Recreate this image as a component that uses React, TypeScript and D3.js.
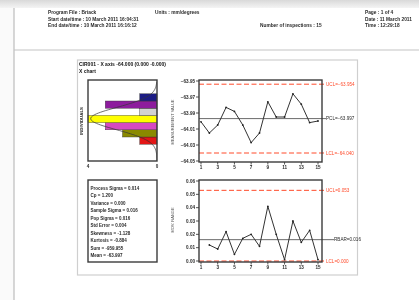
import React from "react"
import * as d3 from "d3"

// header texts of the report page
const headerLeft = ["Program File : Briack", "Start date/time : 10 March 2011 16:04:31", "End date/time : 10 March 2011 16:16:12"]
const headerRight = ["Page : 1 of 4", "Date : 11 March 2011", "Time : 12:29:18"]
const unitsText = "Units : mm/degrees"
const inspectionsText = "Number of inspections : 15"
const chartTitle = ["CIR001 - X axis -64.000 (0.000 -0.000)", "X chart"]

// individuals (X) chart
const sampleNo = [1, 2, 3, 4, 5, 6, 7, 8, 9, 10, 11, 12, 13, 14, 15]
const xValues = [-64.001, -64.015, -64.005, -63.983, -63.988, -64.005, -64.027, -64.015, -63.976, -63.995, -63.995, -63.966, -63.979, -64.002, -64.000]
const xTicks = [-64.05, -64.03, -64.01, -63.99, -63.97, -63.95]
const xLimitNames = ["UCL", "PCL", "LCL"]
const xLimitValues = [-63.954, -63.997, -64.04]

// moving range chart
const rangeSampleNo = [2, 3, 4, 5, 6, 7, 8, 9, 10, 11, 12, 13, 14, 15]
const rangeValues = [0.012, 0.009, 0.022, 0.005, 0.017, 0.02, 0.011, 0.041, 0.02, 0.001, 0.03, 0.014, 0.023, 0.001]
const rTicks = [0, 0.01, 0.02, 0.03, 0.04, 0.05, 0.06]
const rLimitNames = ["UCL", "RBAR", "LCL"]
const rLimitValues = [0.053, 0.016, 0]

const sampleTicks = [1, 3, 5, 7, 9, 11, 13, 15]

// histogram (bins run bottom to top)
const binEdges = [-64.029, -64.02, -64.011, -64.002, -63.993, -63.984, -63.975, -63.966]
const binCounts = [1, 2, 3, 4, 1, 3, 1]
const binColours = ["#e31212", "#8a8a05", "#d64ac2", "#ffff00", "#d2d2d2", "#8d1f9d", "#1e1e84"]
const histTicks = [4, 0]

const statNames = ["Process Sigma", "Cp", "Variance", "Sample Sigma", "Pop Sigma", "Std Error", "Skewness", "Kurtosis", "Sum", "Mean"]
const statValues = ["0.014", "1.200", "0.000", "0.016", "0.016", "0.004", "-1.128", "-0.884", "-959.955", "-63.997"]
const processMean = -63.997
const processSigma = 0.014

const font = "'Liberation Sans', Arial, sans-serif"
const ink = "#2a2a2a"
const limitRed = "#ff4a2a"

function App() {
  const plotL = 199, plotR = 322
  const x = d3.scaleLinear().domain([1, 15]).range([201, 318])
  const yX = d3.scaleLinear().domain([-64.05, -63.95]).range([161, 81])
  const yR = d3.scaleLinear().domain([0, 0.06]).range([261, 181])
  const hx = d3.scaleLinear().domain([0, 4]).range([157, 88])

  const xLine = d3.line<number>().x((d, i) => x(sampleNo[i])).y(d => yX(d))
  const rLine = d3.line<number>().x((d, i) => x(rangeSampleNo[i])).y(d => yR(d))

  const binW = binEdges[1] - binEdges[0]
  const n = d3.sum(binCounts)
  const curveYs = d3.range(-64.05, -63.95, 0.001)
  const normal = d3.line<number>()
    .x(v => hx(n * binW * Math.exp(-0.5 * ((v - processMean) / processSigma) ** 2) / (processSigma * Math.sqrt(2 * Math.PI))))
    .y(v => yX(v))
    .curve(d3.curveBasis)

  const limitLines = (names: string[], values: number[], y: d3.ScaleLinear<number, number>, fmt: (v: number) => string, clLabelX: number) =>
    names.map((name, i) => {
      const isCL = i === 1
      const col = isCL ? "#444" : limitRed
      const lx = isCL ? clLabelX : 326
      return (
        <g key={name}>
          <line x1={plotL} x2={lx} y1={y(values[i])} y2={y(values[i])}
            stroke={col} strokeWidth={isCL ? 0.8 : 1} strokeDasharray={isCL ? undefined : "5,2.5"} />
          <text x={lx} y={y(values[i]) + 1.6} fontSize={4.6} fill={isCL ? ink : limitRed}>
            {name + "=" + fmt(values[i])}
          </text>
        </g>
      )
    })

  const yAxis = (ticks: number[], y: d3.ScaleLinear<number, number>, fmt: (v: number) => string) =>
    ticks.map(t => (
      <g key={t}>
        <line x1={plotL - 3} x2={plotL} y1={y(t)} y2={y(t)} stroke={ink} strokeWidth={0.8} />
        <text x={plotL - 4} y={y(t) + 1.6} fontSize={4.6} textAnchor="end" fill={ink} fontWeight="bold">{fmt(t)}</text>
      </g>
    ))

  const xAxis = (bottom: number) =>
    sampleTicks.map(t => (
      <g key={t}>
        <line x1={x(t)} x2={x(t)} y1={bottom} y2={bottom + 2.5} stroke={ink} strokeWidth={0.8} />
        <text x={x(t)} y={bottom + 6.5} fontSize={4.6} textAnchor="middle" fill={ink} fontWeight="bold">{t}</text>
      </g>
    ))

  return (
    <svg width={419} height={300} style={{ position: "absolute", left: 0, top: 0, background: "#fff" }} fontFamily={font}>
      <defs>
        <linearGradient id="topShade" x1="0" y1="0" x2="0" y2="1">
          <stop offset="0" stopColor="#d9d9d9" />
          <stop offset="1" stopColor="#f4f4f4" />
        </linearGradient>
        <clipPath id="histClip"><rect x={88} y={80} width={69} height={81} /></clipPath>
        <filter id="soft"><feGaussianBlur stdDeviation="0.3" /></filter>
      </defs>
      <g filter="url(#soft)">
        {/* page edges */}
        <rect x={0} y={0} width={419} height={8} fill="url(#topShade)" />
        <rect x={0} y={8} width={14} height={292} fill="#fafafa" />
        <line x1={14} x2={14} y1={8} y2={300} stroke="#bdbdbd" strokeWidth={1.2} />
        <line x1={14} x2={419} y1={50} y2={50} stroke="#c4c4c4" strokeWidth={1.2} />

        {/* header */}
        {headerLeft.map((t, i) => (
          <text key={t} x={48} y={14 + i * 6.6} fontSize={4.8} fill={ink} fontWeight="bold">{t}</text>
        ))}
        <text x={155} y={14} fontSize={4.8} fill={ink} fontWeight="bold">{unitsText}</text>
        <text x={260} y={27.2} fontSize={4.8} fill={ink} fontWeight="bold">{inspectionsText}</text>
        {headerRight.map((t, i) => (
          <text key={t} x={365} y={14 + i * 6.6} fontSize={4.8} fill={ink} fontWeight="bold">{t}</text>
        ))}

        {/* chart panel */}
        <rect x={77.5} y={60} width={280} height={215} fill="#fff" stroke="#cfcfcf" strokeWidth={1.2} />
        {chartTitle.map((t, i) => (
          <text key={t} x={79} y={66 + i * 6.5} fontSize={5} fill="#111" fontWeight="bold">{t}</text>
        ))}

        {/* histogram */}
        <text transform={`translate(83,121) rotate(-90)`} fontSize={4.4} textAnchor="middle" fill={ink} fontWeight="bold">INDIVIDUALS</text>
        {binCounts.map((c, i) => (
          <rect key={i} x={hx(c)} width={hx(0) - hx(c)} y={yX(binEdges[i + 1])} height={yX(binEdges[i]) - yX(binEdges[i + 1])}
            fill={binColours[i]} stroke="#333" strokeWidth={0.4} />
        ))}
        <path d={normal(curveYs) || ""} fill="none" stroke="#333" strokeWidth={0.7} clipPath="url(#histClip)" />
        <rect x={88} y={80} width={69} height={81} fill="none" stroke="#3a3a3a" strokeWidth={1.4} />
        {histTicks.map(t => (
          <text key={t} x={hx(t)} y={168} fontSize={4.6} textAnchor="middle" fill={ink} fontWeight="bold">{t}</text>
        ))}

        {/* statistics box */}
        <rect x={88} y={180} width={69} height={82} fill="#fff" stroke="#3a3a3a" strokeWidth={1.4} />
        {statNames.map((s, i) => (
          <text key={s} x={90.5} y={190 + i * 7.45} fontSize={4.5} fill={ink} fontWeight="bold">{s + " = " + statValues[i]}</text>
        ))}

        {/* X chart */}
        <text transform={`translate(174,122) rotate(-90)`} fontSize={4} textAnchor="middle" fill="#555">MEASUREMENT VALUE</text>
        {yAxis(xTicks, yX, d3.format(".2f"))}
        {xAxis(162)}
        {limitLines(xLimitNames, xLimitValues, yX, d3.format(".3f"), 326)}
        <path d={xLine(xValues) || ""} fill="none" stroke="#333" strokeWidth={1} />
        {xValues.map((v, i) => <circle key={i} cx={x(sampleNo[i])} cy={yX(v)} r={0.9} fill="#222" />)}
        <rect x={plotL} y={80} width={plotR - plotL} height={82} fill="none" stroke="#3a3a3a" strokeWidth={1.4} />

        {/* range chart */}
        <text transform={`translate(174,220) rotate(-90)`} fontSize={4} textAnchor="middle" fill="#555">MOV. RANGE</text>
        {yAxis(rTicks, yR, d3.format(".2f"))}
        {xAxis(262)}
        {limitLines(rLimitNames, rLimitValues, yR, d3.format(".3f"), 334)}
        <path d={rLine(rangeValues) || ""} fill="none" stroke="#333" strokeWidth={1} />
        {rangeValues.map((v, i) => <circle key={i} cx={x(rangeSampleNo[i])} cy={yR(v)} r={0.9} fill="#222" />)}
        <rect x={plotL} y={180} width={plotR - plotL} height={82} fill="none" stroke="#3a3a3a" strokeWidth={1.4} />
      </g>
    </svg>
  )
}

export default App
